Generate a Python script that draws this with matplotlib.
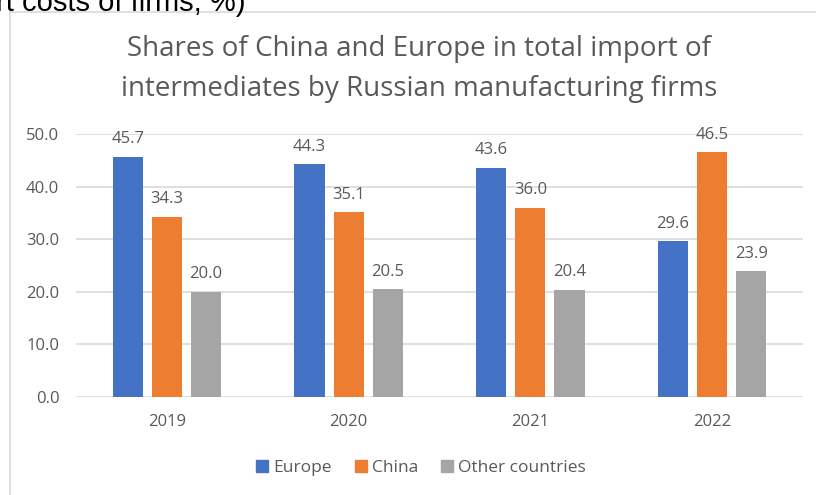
import matplotlib
matplotlib.use("Agg")
import matplotlib.pyplot as plt
import numpy as np
from matplotlib.patches import Rectangle
from matplotlib.lines import Line2D

years = ["2019", "2020", "2021", "2022"]
europe = [45.7, 44.3, 43.6, 29.6]
china = [34.3, 35.1, 36.0, 46.5]
other = [20.0, 20.5, 20.4, 23.9]
series_names = ["Europe", "China", "Other countries"]
colors = ["#4472C4", "#ED7D31", "#A5A5A5"]
yticks = [0, 10, 20, 30, 40, 50]

W, H = 816, 495
fig = plt.figure(figsize=(W / 100, H / 100), dpi=100)
fig.patch.set_facecolor("white")
plt.rcParams['font.family'] = ['Open Sans', 'DejaVu Sans']

# cut-off caption at the top (partially visible in the reference)
fig.text(-0.005, 1.0 + 11 / H, "rt costs of firms, %)", fontsize=21, family="Liberation Sans",
         color="black", ha="left", va="top")

# chart border lines
fig.add_artist(Line2D([10 / W, 10 / W], [0, 1 - 12 / H], transform=fig.transFigure, color="#D9D9D9", lw=1.2))
fig.add_artist(Line2D([10 / W, 1], [1 - 12 / H, 1 - 12 / H], transform=fig.transFigure, color="#D9D9D9", lw=1.2))

left, right = 76 / W, 803 / W
bottom, top = 1 - 397 / H, 1 - 134 / H
ax = fig.add_axes([left, bottom, right - left, top - bottom])

x = np.arange(len(years))
bw = 0.166
step = 0.215
data = [europe, china, other]
for i, (vals, c) in enumerate(zip(data, colors)):
    pos = x + (i - 1) * step
    ax.bar(pos, vals, width=bw, color=c, zorder=3, label=series_names[i])
    for p, v in zip(pos, vals):
        ax.text(p, v + 1.8, f"{v:.1f}", ha="center", va="bottom", fontsize=12, color="#595959", zorder=4)

ax.set_xlim(-0.5, 3.5)
ax.set_ylim(0, 50)
ax.set_yticks(yticks)
ax.set_yticklabels([f"{t:.1f}" for t in yticks], fontsize=12, color="#595959")
ax.set_xticks(x)
ax.set_xticklabels(years, fontsize=12, color="#595959")
ax.tick_params(axis="both", length=0)
ax.tick_params(axis="y", pad=12)
ax.tick_params(axis="x", pad=12)
ax.grid(axis="y", color="#D9D9D9", lw=1.2, zorder=0)
for s in ax.spines.values():
    s.set_visible(False)
ax.set_facecolor("none")

fig.text(419 / W, 1 - 69 / H, "Shares of China and Europe in total import of\nintermediates by Russian manufacturing firms",
         ha="center", va="center", fontsize=20, color="#595959", linespacing=1.55)

handles = [Rectangle((0, 0), 1, 1, color=c) for c in colors]
fig.legend(handles, series_names, loc="center", bbox_to_anchor=(421 / W, 1 - 468 / H), ncol=3,
           frameon=False, fontsize=12.5, handlelength=0.7, handleheight=0.7, handletextpad=0.3,
           columnspacing=1.3, labelcolor="#595959")

fig.savefig("out.png", dpi=100, facecolor="white")
